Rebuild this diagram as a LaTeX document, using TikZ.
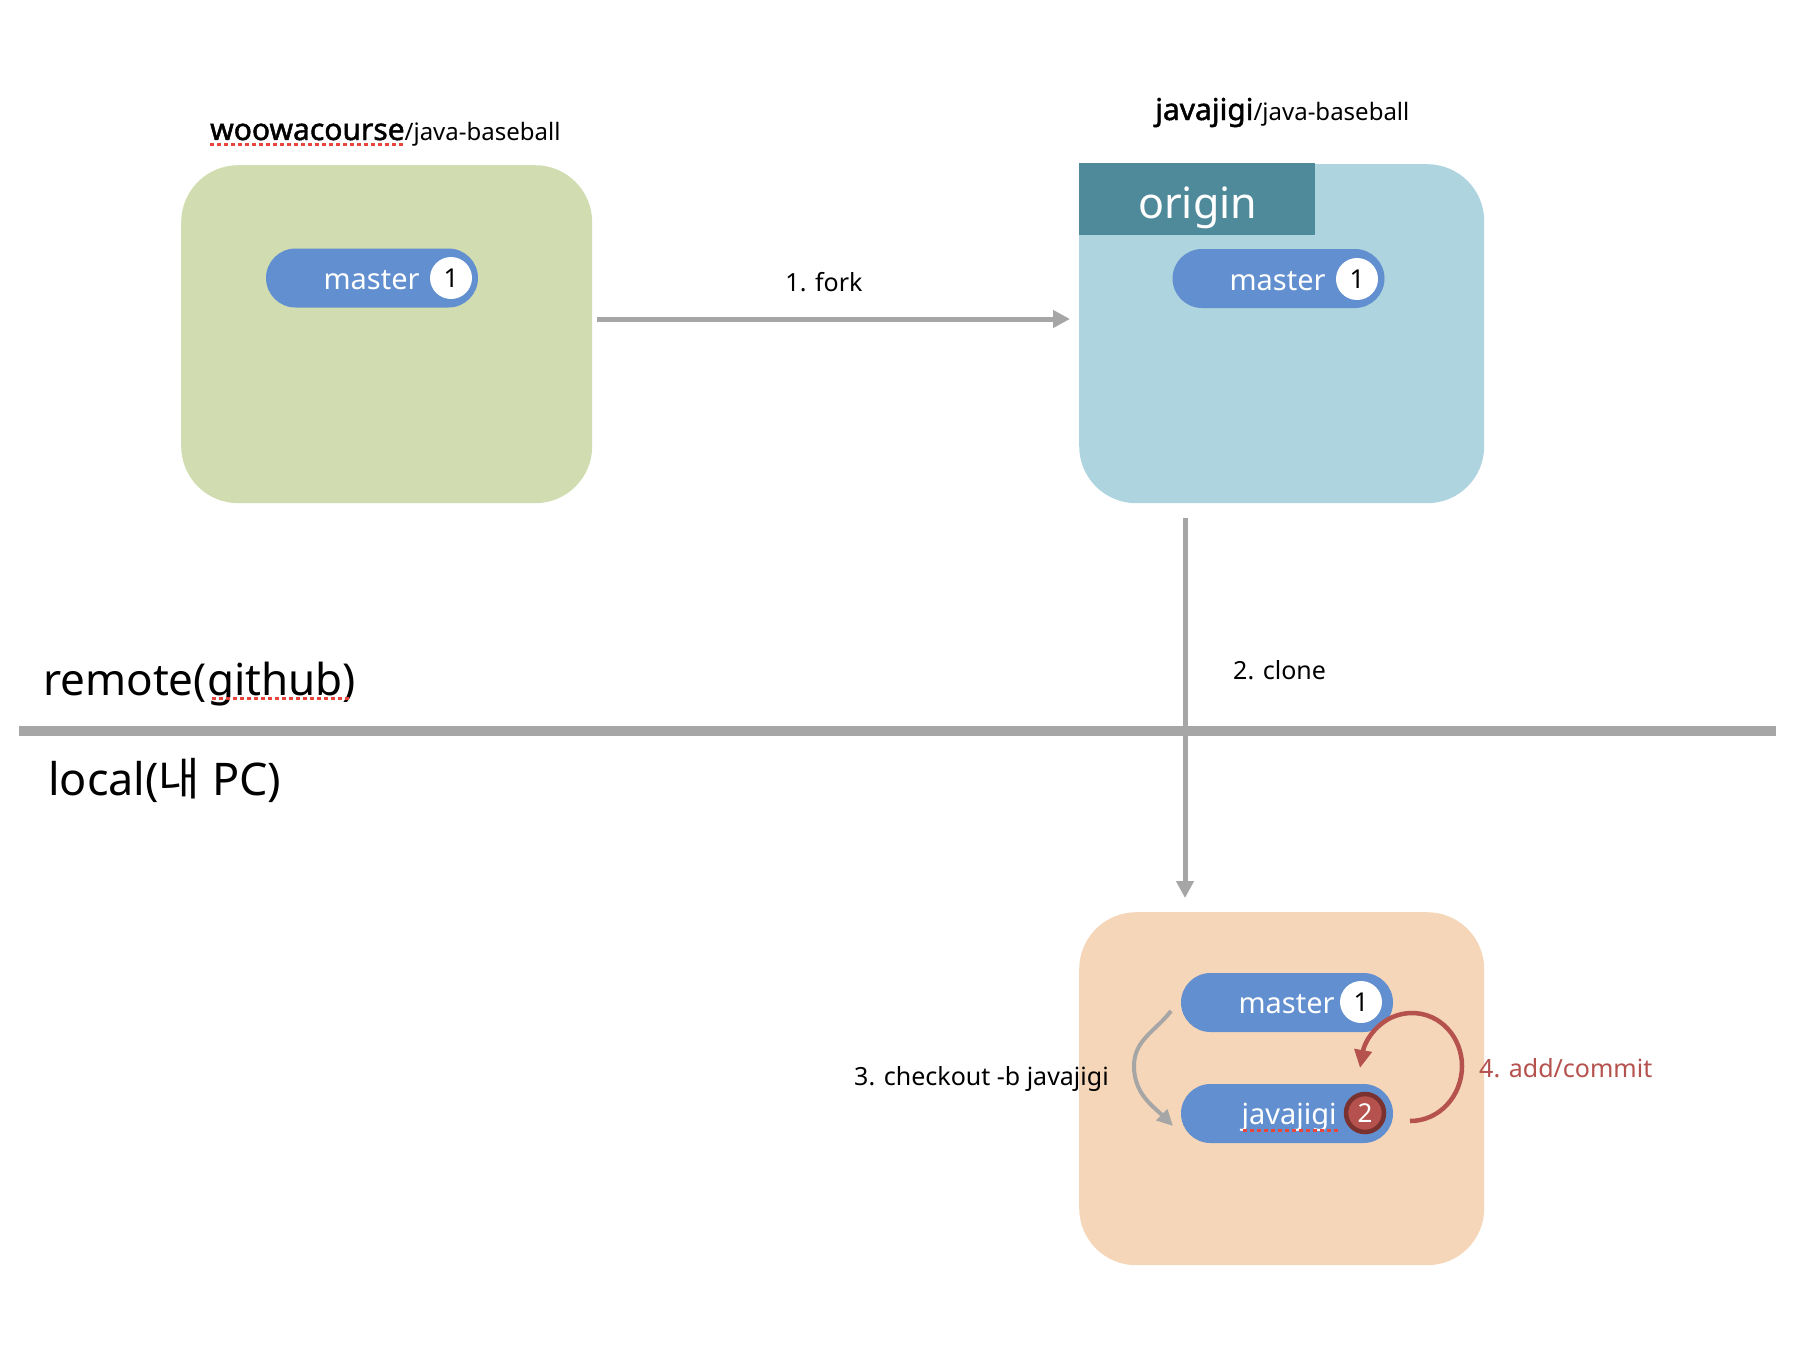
\documentclass[tikz,border=0pt]{standalone}
\usepackage{fontspec}
\setmainfont{Noto Sans}
\newfontfamily\heavy{Noto Sans}[FakeBold=1.6]
\newfontfamily\krfont{Noto Sans CJK KR}
\usetikzlibrary{arrows.meta,shadows}
\definecolor{greenbox}{RGB}{209,221,177}
\definecolor{bluebox}{RGB}{174,212,223}
\definecolor{originbar}{RGB}{79,138,155}
\definecolor{orangebox}{RGB}{245,214,184}
\definecolor{pillblue}{RGB}{97,143,207}
\definecolor{linegray}{RGB}{166,166,166}
\definecolor{commitred}{RGB}{181,82,78}
\definecolor{commitring}{RGB}{122,50,48}
\definecolor{spellred}{RGB}{232,69,60}
\newcommand{\fs}[1]{\fontsize{#1}{#1}\selectfont}
\newcommand{\owner}[1]{{\heavy\fs{30}#1}}
\begin{document}
\begin{tikzpicture}[x=1pt,y=1pt,
  repo/.style={fill=#1, rounded corners=57pt, anchor=north west, inner sep=0pt},
  pill/.style={fill=pillblue, rounded corners=29.5pt, minimum width=212pt,
    minimum height=59pt, inner sep=0pt},
  pilltext/.style={text=white, font=\fs{29}, anchor=mid east, inner sep=0pt},
  badge/.style={circle, fill=white, minimum size=42pt, inner sep=0pt, font=\fs{26}},
  label/.style={font=\fs{25}, anchor=base west, inner sep=0pt},
  title/.style={font=\fs{24}, anchor=base west, inner sep=0pt},
  flow/.style={draw=linegray, line width=5pt, -{Triangle[length=17pt,width=17pt]}},
  spell/.style={draw=spellred, line width=3pt, dash pattern=on 4pt off 3pt}]
\useasboundingbox[fill=white] (0,0) rectangle (1798,-1346);

% repositories
\node[repo=greenbox, minimum width=411pt, minimum height=338pt] (upstream) at (181,-165) {};
\node[repo=bluebox, minimum width=405pt, minimum height=339pt] (fork) at (1079,-164) {};
\node[fill=originbar, anchor=north west, minimum width=236pt, minimum height=72pt,
  inner sep=0pt] (originbar) at (1079,-163) {};
\node[text=white, font=\fs{43}, anchor=base west, inner sep=0pt] (origin) at (1138,-218) {origin};
\node[repo=orangebox, minimum width=405pt, minimum height=353pt] (local) at (1079,-912) {};

% repository titles
\node[title] (uptitle) at (210,-140) {\owner{woowacourse}/java-baseball};
\draw[spell] (210,-144) -- (405,-144);
\node[title] (forktitle) at (1155,-120) {\owner{javajigi}/java-baseball};

% branches
\node[pill] (m1) at (372,-278) {};
\node[badge] (b1) at (451,-278) {1};
\node[pilltext] (t1) at ([xshift=-10pt,yshift=-9pt]b1.west) {master};

\node[pill] (m2) at (1278.5,-278.5) {};
\node[badge] (b2) at (1357,-279) {1};
\node[pilltext] (t2) at ([xshift=-10pt,yshift=-9pt]b2.west) {master};

\node[pill] (m3) at (1287,-1002.5) {};
\node[badge] (b3) at (1361,-1002) {1};
\node[pilltext] (t3) at ([xshift=-5pt,yshift=-9pt]b3.west) {master};

\node[pill] (jv) at (1287,-1113.5) {};
\node[circle, fill=commitred, draw=commitring, line width=4.5pt, minimum size=38pt,
  inner sep=0pt, text=white, font=\fs{26},
  drop shadow={opacity=0.35, shadow xshift=1.5pt, shadow yshift=-2pt}] (b4) at (1365,-1113) {2};
\node[pilltext] (t4) at ([xshift=-7pt,yshift=-9pt]b4.west) {javajigi};
\draw[spell] (1243,-1130) -- (1338,-1130);

% remote / local divider
\draw[draw=linegray, line width=10pt] (19,-730.5) coordinate (dl) -- (1776,-730.5) coordinate (dr);
\node[font=\fs{44}, anchor=base west, inner sep=0pt] (remote) at (43,-695) {remote(github)};
\draw[spell] (212,-698) -- (350,-698);
\node[font=\fs{45}, anchor=base west, inner sep=0pt] (localtxt) at (48,-795) {local({\krfont 내} PC)};

% 1. fork
\coordinate (forkS) at (597,-319);
\coordinate (forkE) at (1070,-319);
\draw[flow] (forkS) -- (forkE);
\node[font=\fs{25}, anchor=base, inner sep=0pt] (forklbl) at (824,-291) {1. fork};

% 2. clone
\coordinate (cloneS) at (1185,-518);
\coordinate (cloneE) at (1185,-898);
\draw[flow] (cloneS) -- (cloneE);
\node[label] (clonelbl) at (1233,-679) {2. clone};

% 3. checkout
\coordinate (coS) at (1171,-1011);
\coordinate (coM) at (1134,-1066);
\coordinate (coE) at (1173,-1126);
\draw[flow, line width=4pt, -{Triangle[length=16pt,width=15pt]}]
  (coS) to[out=-128,in=90] (coM) to[out=-90,in=135] (coE);
\node[label] (colbl) at (854,-1085) {3. checkout -b javajigi};

% 4. add/commit
\coordinate (acS) at (1410,-1121);
\coordinate (acR) at (1462,-1066);
\coordinate (acT) at (1412,-1013);
\coordinate (acE) at (1360,-1068);
\draw[draw=commitred, line width=4.5pt, -{Triangle[length=18pt,width=17pt]}]
  (acS) to[out=0,in=-90] (acR) to[out=90,in=0] (acT) to[out=180,in=80] (acE);
\node[label, text=commitred] (aclbl) at (1479,-1077) {4. add/commit};
\end{tikzpicture}
\end{document}
